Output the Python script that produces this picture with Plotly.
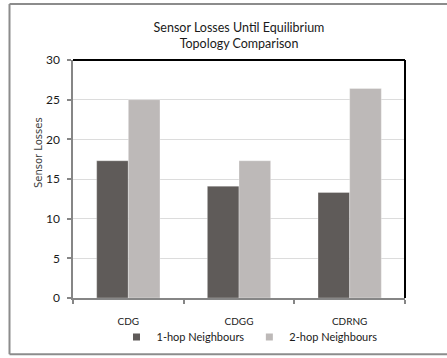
import plotly.graph_objects as go

categories = ["CDG", "CDGG", "CDRNG"]
one_hop = [17.3, 14.1, 13.3]
two_hop = [25.0, 17.3, 26.4]
series_names = ["1-hop Neighbours", "2-hop Neighbours"]
y_ticks = [0, 5, 10, 15, 20, 25, 30]

c1 = "#5f5b59"
c2 = "#bdb9b8"
fnt = "Lato, Liberation Sans, sans-serif"

fig = go.Figure()
fig.add_trace(go.Bar(x=categories, y=one_hop, name=series_names[0],
                     marker=dict(color=c1, line=dict(color="rgba(255,255,255,0.5)", width=0.6)),
                     showlegend=False))
fig.add_trace(go.Bar(x=categories, y=two_hop, name=series_names[1],
                     marker=dict(color=c2, line=dict(color="rgba(255,255,255,0.5)", width=0.6)),
                     showlegend=False))
# legend entries with small square swatches
fig.add_trace(go.Scatter(x=[None], y=[None], mode="markers", name=series_names[0],
                         marker=dict(symbol="square", size=7, color=c1)))
fig.add_trace(go.Scatter(x=[None], y=[None], mode="markers", name=series_names[1],
                         marker=dict(symbol="square", size=7, color=c2)))

L, R, T, B = 73, 42, 59.5, 59.5
W, H = 447, 358
pw, ph = W - L - R, H - T - B

def px(x):
    return (x - L) / pw

def py(y):
    return (H - B - y) / ph

frame = dict(color="#8c8c8c", width=2)
fig.update_layout(
    width=W, height=H, autosize=False,
    margin=dict(l=L, r=R, t=T, b=B, pad=0, autoexpand=False),
    paper_bgcolor="white", plot_bgcolor="white",
    barmode="group", bargap=0.428, bargroupgap=0,
    title=dict(text="Sensor Losses Until Equilibrium<br>Topology Comparison",
               x=0.5, xref="paper", xanchor="center",
               y=1 - 32 / H, yref="container", yanchor="middle",
               font=dict(family=fnt, size=12.5, color="#1a1a1a")),
    font=dict(family=fnt, color="#262626"),
    legend=dict(orientation="h", x=249.5 / W, xref="container", xanchor="center",
                y=(H - 337) / H, yref="container", yanchor="middle",
                font=dict(family=fnt, size=11, color="#1a1a1a"),
                itemwidth=30, tracegroupgap=0, bgcolor="rgba(0,0,0,0)"),
    xaxis=dict(type="category", showgrid=False, showline=True, linecolor="#868686", linewidth=1.5,
               ticks="outside", tickson="boundaries", ticklen=4, tickcolor="#868686", tickwidth=1.5,
               tickfont=dict(family=fnt, size=10, color="#1a1a1a"), ticklabelstandoff=13,
               automargin=False),
    yaxis=dict(range=[0, 30], tickvals=y_ticks, showgrid=True, gridcolor="#dcdcdc", gridwidth=1,
               showline=True, linecolor="#868686", linewidth=1.5, zeroline=False,
               ticks="outside", ticklen=4, tickcolor="#868686", tickwidth=1.5,
               tickfont=dict(family=fnt, size=12, color="#1a1a1a"), ticklabelstandoff=5,
               automargin=False),
    shapes=[
        # plot-area top and right border
        dict(type="line", xref="paper", yref="paper", x0=0, x1=1, y0=1, y1=1,
             line=dict(color="black", width=2)),
        dict(type="line", xref="paper", yref="paper", x0=1, x1=1, y0=0, y1=1,
             line=dict(color="black", width=2)),
        # outer chart frame (left, top, bottom; right side lies outside the view)
        dict(type="line", xref="paper", yref="paper", x0=px(9.5), x1=px(9.5), y0=py(355), y1=py(3.3),
             line=frame, layer="below"),
        dict(type="line", xref="paper", yref="paper", x0=px(9.5), x1=px(447), y0=py(3.3), y1=py(3.3),
             line=frame, layer="below"),
        dict(type="line", xref="paper", yref="paper", x0=px(9.5), x1=px(447), y0=py(355), y1=py(355),
             line=frame, layer="below"),
    ],
    annotations=[
        dict(text="Sensor Losses", textangle=-90, xref="paper", yref="paper",
             x=px(38), y=py(153), xanchor="center", yanchor="middle", showarrow=False,
             font=dict(family="DejaVu Sans, Verdana, sans-serif", size=10, color="#404040")),
    ],
)

fig.write_html("out.html")
